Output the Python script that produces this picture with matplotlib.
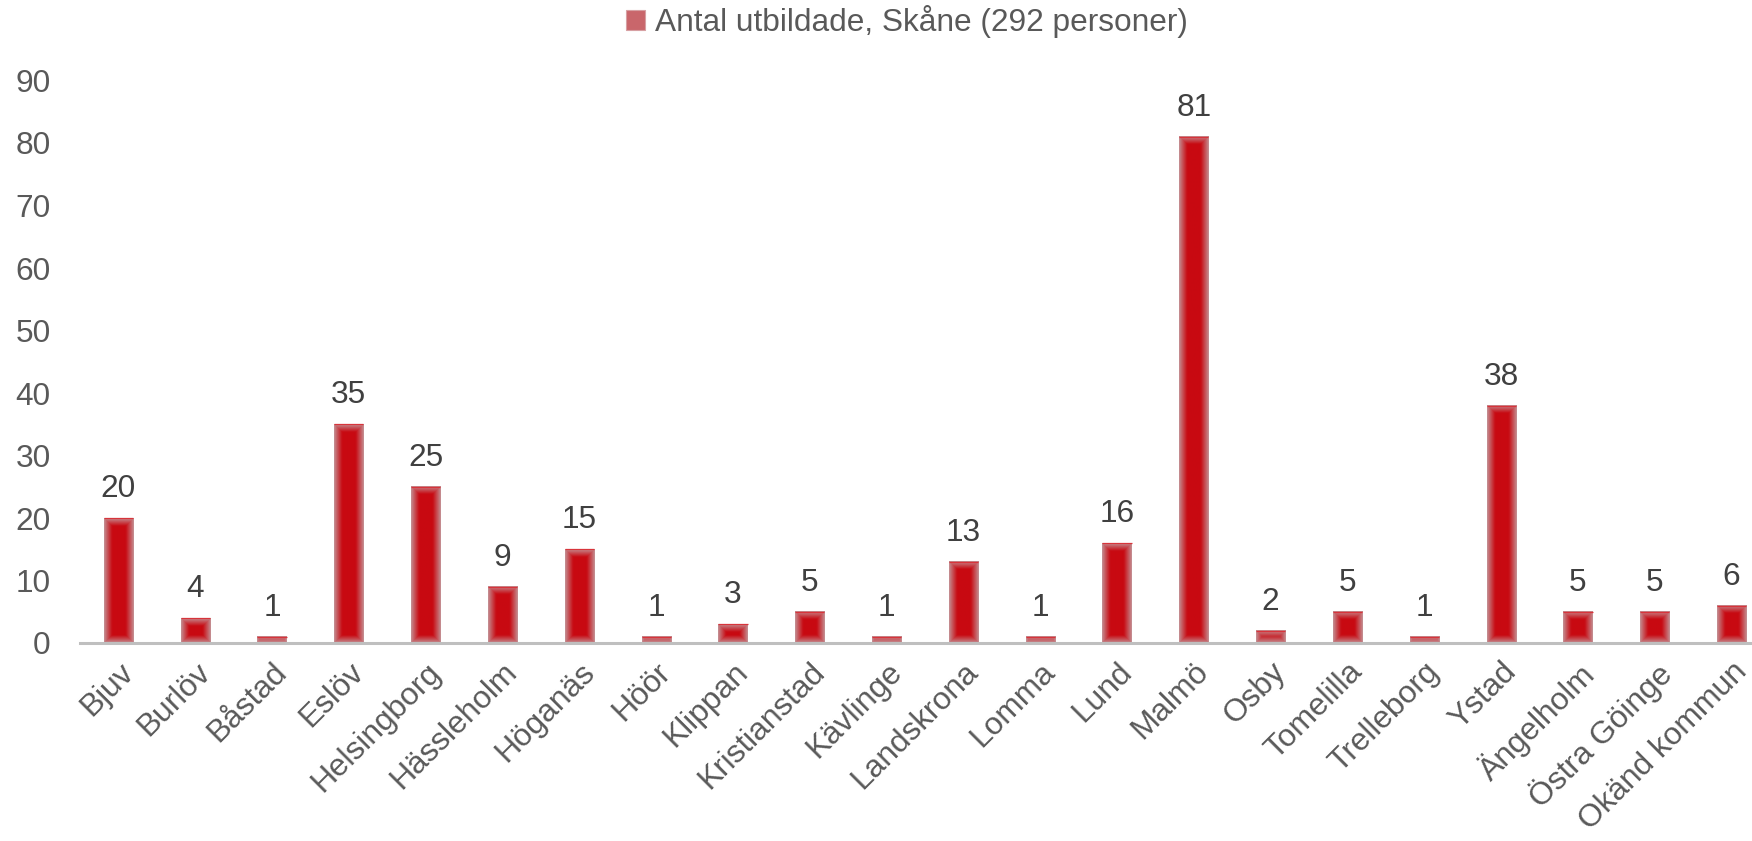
import numpy as np
import matplotlib.pyplot as plt
from matplotlib.colors import to_rgb
from matplotlib.patches import Patch

plt.rcParams["font.family"] = ["Liberation Sans", "DejaVu Sans"]

kommuner = ["Bjuv", "Burlöv", "Båstad", "Eslöv", "Helsingborg", "Hässleholm",
            "Höganäs", "Höör", "Klippan", "Kristianstad", "Kävlinge", "Landskrona",
            "Lomma", "Lund", "Malmö", "Osby", "Tomelilla", "Trelleborg", "Ystad",
            "Ängelholm", "Östra Göinge", "Okänd kommun"]
antal = [20, 4, 1, 35, 25, 9, 15, 1, 3, 5, 1, 13, 1, 16, 81, 2, 5, 1, 38, 5, 5, 6]
serie = "Antal utbildade, Skåne (292 personer)"

RED = np.array(to_rgb("#C80A12"))
EDGE = np.array(to_rgb("#C4969A"))
TXT = "#595959"
FS = 22.8

W, H = 1752, 841
fig = plt.figure(figsize=(W / 100, H / 100), dpi=100)
ax = fig.add_axes([80 / W, 1 - 643 / H, (1770 - 80) / W, (643 - 80.5) / H])

x = np.arange(len(kommuner))
bars = ax.bar(x, antal, width=0.38, color="none", edgecolor="none", zorder=2)
ax.set_xlim(-0.5, len(kommuner) - 0.5)
ax.set_ylim(0, 90)

# soft fill: pinkish edges fading to red in the middle of each bar
fig.canvas.draw()
for b in bars:
    x0, y0 = b.get_x(), 0
    x1, y1 = x0 + b.get_width(), b.get_height()
    p0 = ax.transData.transform((x0, y0))
    p1 = ax.transData.transform((x1, y1))
    nx = max(int(round(p1[0] - p0[0])), 2)
    ny = max(int(round(p1[1] - p0[1])), 2)
    gx = np.minimum(np.arange(nx) + 0.5, nx - np.arange(nx) - 0.5)
    gy = np.minimum(np.arange(ny) + 0.5, ny - np.arange(ny) - 0.5)
    d = np.minimum(gx[None, :], gy[:, None])
    t = np.clip(d / 8.0, 0, 1) ** 0.9
    img = EDGE[None, None, :] + (RED - EDGE)[None, None, :] * t[:, :, None]
    ax.imshow(img, extent=(x0, x1, y0, y1), aspect="auto", origin="lower",
              interpolation="bilinear", zorder=2)
    ax.plot([x0, x1], [y1, y1], color="#D8343B", lw=0.9, zorder=3,
            solid_capstyle="butt")

ax.set_xlim(-0.5, len(kommuner) - 0.5)
ax.set_ylim(0, 90)

for xi, v in zip(x, antal):
    ax.annotate(str(v), (xi, v), xytext=(0, 10), textcoords="offset points",
                ha="center", va="bottom", fontsize=FS, color="#404040")

for s in ["top", "right", "left"]:
    ax.spines[s].set_visible(False)
ax.spines["bottom"].set_color("#BFBFBF")
ax.spines["bottom"].set_linewidth(2.2)
ax.spines["bottom"].set_zorder(4)

ax.set_yticks(range(0, 91, 10))
ax.tick_params(axis="y", length=0, pad=21, labelsize=FS, labelcolor=TXT)
ax.set_xticks(x)
ax.set_xticklabels(kommuner, rotation=45, ha="right", rotation_mode="anchor",
                   fontsize=FS, color=TXT)
ax.tick_params(axis="x", length=0, pad=10)

fig.legend(handles=[Patch(facecolor="#C9666B", edgecolor="#D7A0A3", lw=0.8)],
           labels=[serie], loc="center", bbox_to_anchor=(907 / W, 1 - 22 / H),
           frameon=False, fontsize=FS, labelcolor=TXT, handlelength=0.6,
           handleheight=0.6, handletextpad=0.3)

fig.savefig("out.png", dpi=100)
